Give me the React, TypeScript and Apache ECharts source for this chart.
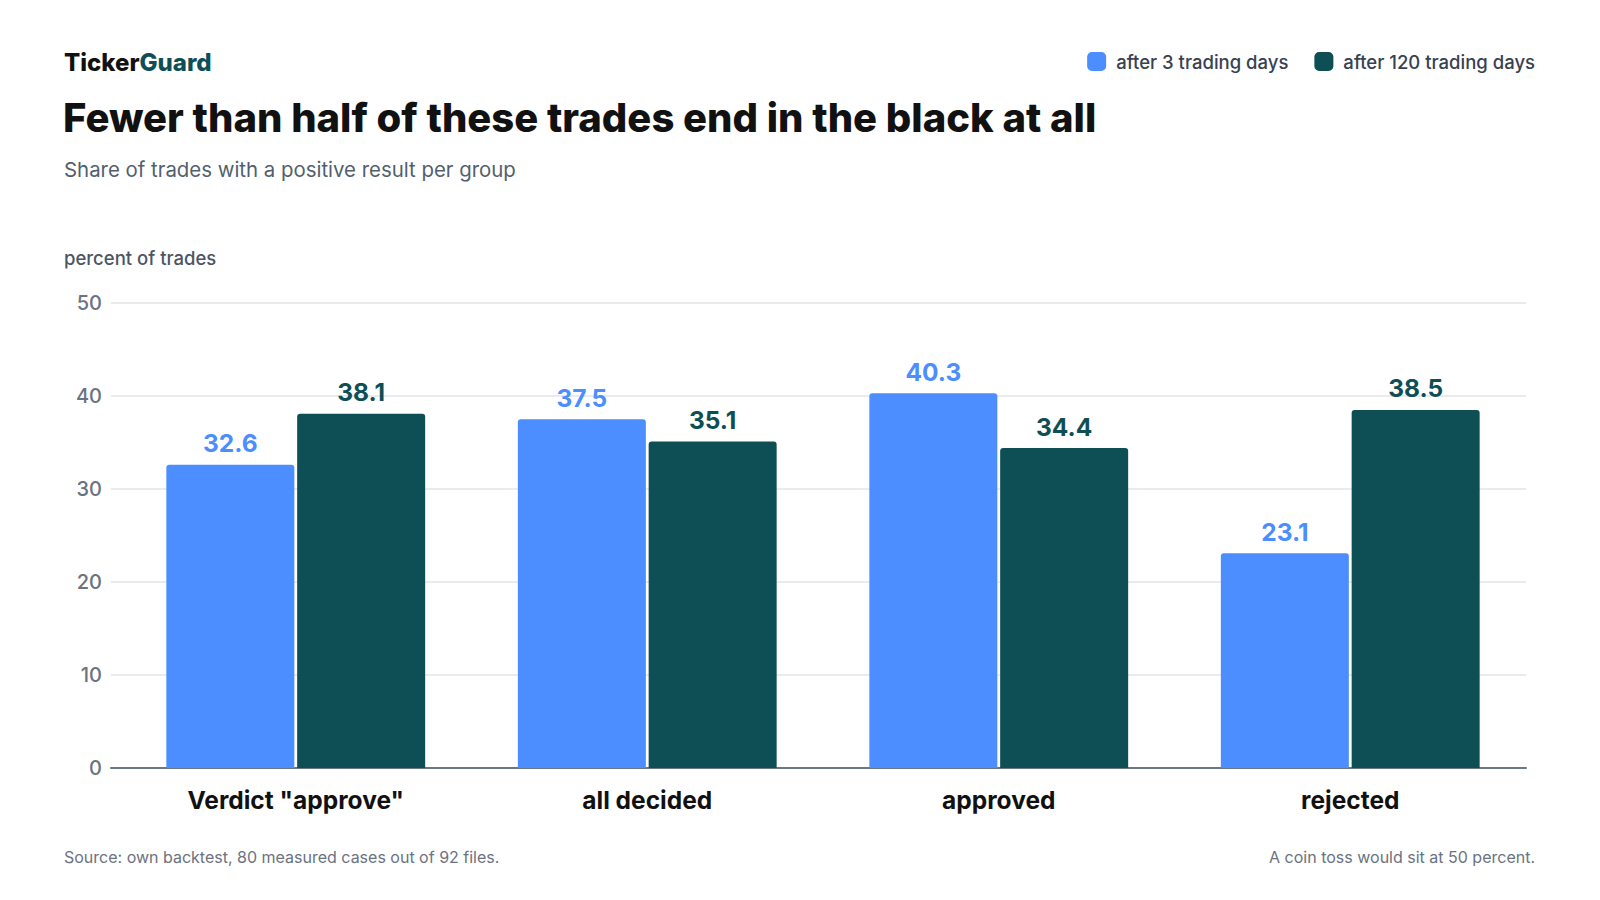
import React, { useEffect, useRef } from "react";
import * as echarts from "echarts";

const categories = ['Verdict "approve"', "all decided", "approved", "rejected"];
const after3Days = [32.6, 37.5, 40.3, 23.1];
const after120Days = [38.1, 35.1, 34.4, 38.5];
const seriesNames = ["after 3 trading days", "after 120 trading days"];

const BLUE = "#4c8dff";
const TEAL = "#0e4f56";
const FONT = "Inter, 'Noto Sans', sans-serif";

const App: React.FC = () => {
  const chartRef = useRef<HTMLDivElement>(null);

  useEffect(() => {
    if (!chartRef.current) return;
    const chart = echarts.init(chartRef.current, null, { renderer: "svg" });

    const valueLabel = (color: string) => ({
      show: true,
      position: "top",
      distance: 9,
      color,
      fontSize: 24.5,
      fontWeight: 700,
      fontFamily: FONT,
      formatter: (p: any) => p.value.toFixed(1),
    });

    // plain text blocks above and below the plot
    const text = (t: string, pos: any, style: any) => ({
      text: t,
      padding: 0,
      ...pos,
      textStyle: { fontFamily: FONT, fontWeight: 400, ...style },
    });

    chart.setOption({
      animation: false,
      backgroundColor: "#ffffff",
      textStyle: { fontFamily: FONT },
      title: [
        {
          text: "{a|Ticker}{b|Guard}",
          left: 64,
          top: 50,
          padding: 0,
          textStyle: {
            rich: {
              a: { fontSize: 24, fontWeight: 800, color: "#111111", fontFamily: FONT },
              b: { fontSize: 24, fontWeight: 800, color: TEAL, fontFamily: FONT },
            },
          },
        },
        text("Fewer than half of these trades end in the black at all", { left: 63, top: 97 }, {
          fontSize: 40,
          fontWeight: 800,
          color: "#111111",
        }),
        text("Share of trades with a positive result per group", { left: 64, top: 159 }, {
          fontSize: 20.4,
          color: "#525f6e",
        }),
        text("percent of trades", { left: 64, top: 248 }, {
          fontSize: 18.5,
          fontWeight: 500,
          color: "#4b5563",
        }),
        text("Source: own backtest, 80 measured cases out of 92 files.", { left: 64, top: 849 }, {
          fontSize: 16,
          color: "#6b7280",
        }),
        text("A coin toss would sit at 50 percent.", { right: 65, top: 849 }, {
          fontSize: 16,
          color: "#6b7280",
        }),
      ],
      legend: {
        right: 65,
        top: 52,
        padding: 0,
        itemWidth: 19,
        itemHeight: 19,
        itemGap: 26,
        icon: "roundRect",
        textStyle: {
          fontSize: 18.5,
          fontWeight: 500,
          color: "#374151",
          fontFamily: FONT,
          padding: [0, 0, 0, 5],
        },
        data: seriesNames,
      },
      grid: [
        // bars
        { left: 120, right: 74, top: 303, bottom: 132 },
        // gridlines and baseline reach a little further left
        { left: 111, right: 74, top: 303, bottom: 132 },
      ],
      xAxis: [
        {
          type: "category",
          gridIndex: 0,
          data: categories,
          axisTick: { show: false },
          axisLine: { show: false },
          axisLabel: {
            margin: 19,
            fontSize: 24.5,
            fontWeight: 700,
            color: "#111111",
            fontFamily: FONT,
          },
        },
        {
          type: "category",
          gridIndex: 1,
          data: categories,
          axisTick: { show: false },
          axisLabel: { show: false },
          axisLine: { lineStyle: { color: "#6b7785", width: 2 } },
        },
      ],
      yAxis: [
        {
          type: "value",
          gridIndex: 0,
          min: 0,
          max: 50,
          interval: 10,
          axisLine: { show: false },
          axisTick: { show: false },
          splitLine: { show: false },
          axisLabel: {
            margin: 18,
            fontSize: 20,
            fontWeight: 500,
            color: "#6b7280",
            fontFamily: FONT,
          },
        },
        {
          type: "value",
          gridIndex: 1,
          min: 0,
          max: 50,
          interval: 10,
          axisLine: { show: false },
          axisTick: { show: false },
          axisLabel: { show: false },
          splitLine: { lineStyle: { color: "#e3e5e8", width: 1.5 } },
        },
      ],
      series: [
        {
          name: seriesNames[0],
          type: "bar",
          data: after3Days,
          barWidth: 128,
          barGap: "2.2%",
          z: 3,
          itemStyle: { color: BLUE, borderRadius: [3, 3, 0, 0] },
          label: valueLabel(BLUE),
        },
        {
          name: seriesNames[1],
          type: "bar",
          data: after120Days,
          barWidth: 128,
          z: 3,
          itemStyle: { color: TEAL, borderRadius: [3, 3, 0, 0] },
          label: valueLabel(TEAL),
        },
      ],
    });

    return () => {
      chart.dispose();
    };
  }, []);

  return (
    <div
      ref={chartRef}
      style={{ position: "absolute", left: 0, top: 0, width: 1600, height: 900 }}
    />
  );
};

export default App;
